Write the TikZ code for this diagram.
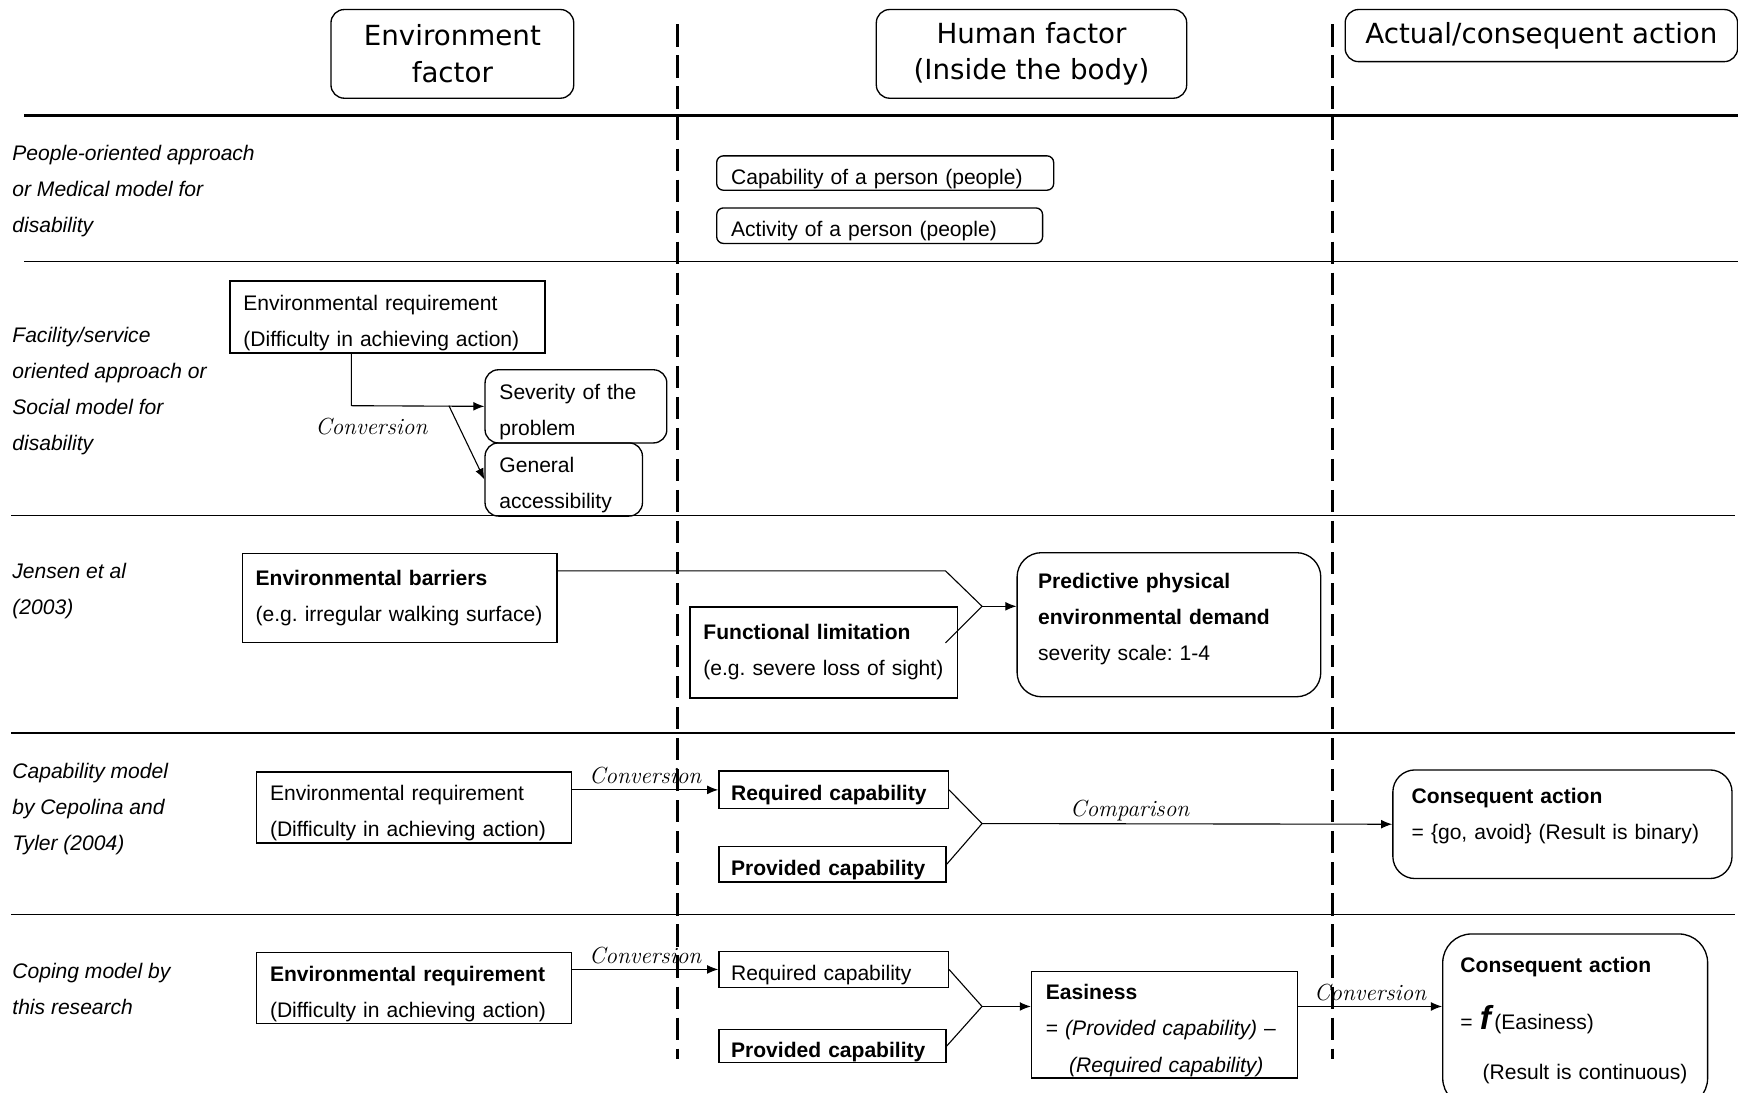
\documentclass[tikz,border=0pt]{standalone}
\usepackage{fontspec}
\usepackage{tikz}
\usetikzlibrary{arrows.meta}
\newfontfamily\arialfont{Liberation Sans}
\newfontfamily\headfont{DejaVu Sans}
\frenchspacing
\tikzset{
	boxtxt/.style={font=\arialfont\fontsize{19}{32.5}\selectfont},
	sqbox/.style={boxtxt,draw,line width=1.2pt,rectangle,anchor=north west,align=left,inner xsep=13pt,inner ysep=0.5pt},
	rbox/.style={sqbox,rounded corners=6pt},
	lowtxt/.style={execute at begin node={\rule{0pt}{24pt}}},
	headbox/.style={draw,line width=1.2pt,rounded corners=12pt,anchor=north west,align=center,inner sep=0pt,font=\headfont\fontsize{25}{33}\selectfont},
	rowlabel/.style={anchor=north west,align=left,inner sep=0pt,font=\arialfont\itshape\fontsize{19}{32.5}\selectfont},
	convlabel/.style={font=\itshape\fontsize{21}{21}\selectfont,inner sep=4.5pt},
	conn/.style={line width=1pt},
	arrowed/.style={conn,-{Latex[length=10pt,width=8pt]}},
	divider/.style={line width=2.5pt,dash pattern=on 20pt off 8pt},
	rowline/.style={line width=1.5pt}
}
\begin{document}
\begin{tikzpicture}[x=1pt,y=-1pt]
		\useasboundingbox (0,0) rectangle (1568,986);
		\draw[divider] (611,22) -- (611,955);
		\draw[divider] (1202,22) -- (1202,955);
		\draw[line width=3pt] (22,104) -- (1568,104);
		\draw[rowline] (22,236) -- (1568,236);
		\draw[rowline] (10,465) -- (1565,465);
		\draw[rowline] (10,661) -- (1565,661);
		\draw[rowline] (10,825) -- (1565,825);

		\node[headbox,minimum width=219pt,minimum height=80pt] (envhead) at (298,8) {Environment\\factor};
		\node[headbox,minimum width=280pt,minimum height=80pt] (humhead) at (790,8) {Human factor\\(Inside the body)};
		\node[headbox,minimum width=354pt,minimum height=47pt] (acthead) at (1213,8) {Actual/consequent action};

		\node[rowlabel] (medlab) at (11,131) {People-oriented approach\\or Medical model for\\disability};
		\node[rowlabel] (soclab) at (11,295) {Facility/service\\oriented approach or\\Social model for\\disability};
		\node[rowlabel] (jenlab) at (11,508) {Jensen et al\\(2003)};
		\node[rowlabel] (ceplab) at (11,688) {Capability model\\by Cepolina and\\Tyler (2004)};
		\node[rowlabel] (coplab) at (11,869) {Coping model by\\this research};

		\node[rbox,lowtxt,text width=278pt,minimum height=31pt] (capab) at (646,140) {Capability of a person (people)};
		\node[rbox,lowtxt,text width=268pt,minimum height=32pt] (activ) at (646,187) {Activity of a person (people)};

		\node[sqbox,lowtxt,text width=260pt,minimum height=65pt,inner xsep=12pt] (envreqB) at (207,253) {Environmental requirement\\(Difficulty in achieving action)};
		\node[rbox,lowtxt,rounded corners=12pt,text width=138pt,minimum height=66pt] (sever) at (437,333) {Severity of the\\problem};
		\node[rbox,lowtxt,rounded corners=12pt,text width=116pt,minimum height=66pt] (gen) at (437,399) {General\\accessibility};
		\coordinate (bendB) at (317,366);
		\coordinate (forkB) at (405,366);
		\draw[arrowed] (envreqB.south -| bendB) -- (bendB) -- (sever.west);
		\draw[arrowed] (forkB) -- (gen.west);
		\node[convlabel] (convB) at (335,385) {Conversion};

		\node[sqbox,text width=260pt,minimum height=80pt,inner xsep=12pt] (barrier) at (218,499) {\textbf{Environmental barriers}\\(e.g. irregular walking surface)};
		\node[sqbox,text width=217pt,minimum height=82pt,inner xsep=12pt] (funclim) at (622,547) {\textbf{Functional limitation}\\(e.g. severe loss of sight)};
		\node[sqbox,rounded corners=22pt,text width=236pt,inner xsep=19pt,minimum height=130pt] (demand) at (917,498) {\textbf{Predictive physical}\\\textbf{environmental demand}\\severity scale: 1-4\rule[-15pt]{0pt}{15pt}};
		\coordinate (kneeC) at (853,515);
		\coordinate (mergeC) at (886,547);
		\coordinate (tailC) at (853,580);
		\draw[conn] (barrier.east |- kneeC) -- (kneeC) -- (mergeC);
		\draw[conn] (tailC) -- (mergeC);
		\draw[arrowed] (mergeC) -- (mergeC -| demand.west);

		\node[sqbox,lowtxt,text width=260pt,minimum height=64pt,inner xsep=12pt] (envreqD) at (231,696) {Environmental requirement\\(Difficulty in achieving action)};
		\node[sqbox,lowtxt,text width=185pt,minimum height=34pt,inner xsep=11pt] (reqD) at (648,695) {\textbf{Required capability}};
		\node[sqbox,lowtxt,text width=183pt,minimum height=32pt,inner xsep=11pt] (provD) at (648,763) {\textbf{Provided capability}};
		\node[sqbox,rounded corners=20pt,text width=272pt,inner xsep=17pt,minimum height=98pt] (consD) at (1256,694) {\textbf{Consequent action}\\= \{go, avoid\} (Result is binary)\rule[-19pt]{0pt}{19pt}};
		\coordinate (mergeD) at (886,743);
		\draw[arrowed] (envreqD.east |- reqD.west) -- node[convlabel,above] (convD) {Conversion} (reqD.west);
		\draw[conn] (reqD.east) -- (mergeD);
		\draw[conn] (provD.east) -- (mergeD);
		\draw[arrowed] (mergeD) -- node[convlabel,above,pos=0.36,inner sep=2pt] (compD) {Comparison} (consD.west);

		\node[sqbox,lowtxt,text width=260pt,minimum height=64pt,inner xsep=12pt] (envreqE) at (231,859) {\textbf{Environmental requirement}\\(Difficulty in achieving action)};
		\node[sqbox,lowtxt,text width=185pt,minimum height=32pt,inner xsep=11pt] (reqE) at (648,858) {Required capability};
		\node[sqbox,lowtxt,text width=183pt,minimum height=30pt,inner xsep=11pt] (provE) at (648,928) {\textbf{Provided capability}};
		\node[sqbox,lowtxt,text width=214pt,minimum height=96pt] (easy) at (930,876) {\textbf{Easiness}\\= \textit{(Provided capability)} –\\\hspace*{21pt}\textit{(Required capability)}};
		\node[sqbox,rounded corners=26pt,text width=207pt,inner xsep=16pt,minimum height=156pt] (consE) at (1301,842) {\textbf{Consequent action}\\[19pt]= {\fontsize{30}{30}\selectfont\bfseries\itshape f}\,(Easiness)\\[13pt]\hspace*{20pt}\mbox{(Result is continuous)}};
		\coordinate (mergeE) at (886,908);
		\draw[arrowed] (envreqE.east |- reqE.west) -- node[convlabel,above] (convE) {Conversion} (reqE.west);
		\draw[conn] (reqE.east) -- (mergeE);
		\draw[conn] (provE.east) -- (mergeE);
		\draw[arrowed] (mergeE) -- (mergeE -| easy.west);
		\draw[arrowed] (mergeE -| easy.east) -- node[convlabel,above] (convF) {Conversion} (mergeE -| consE.west);
	\end{tikzpicture}
\end{document}
